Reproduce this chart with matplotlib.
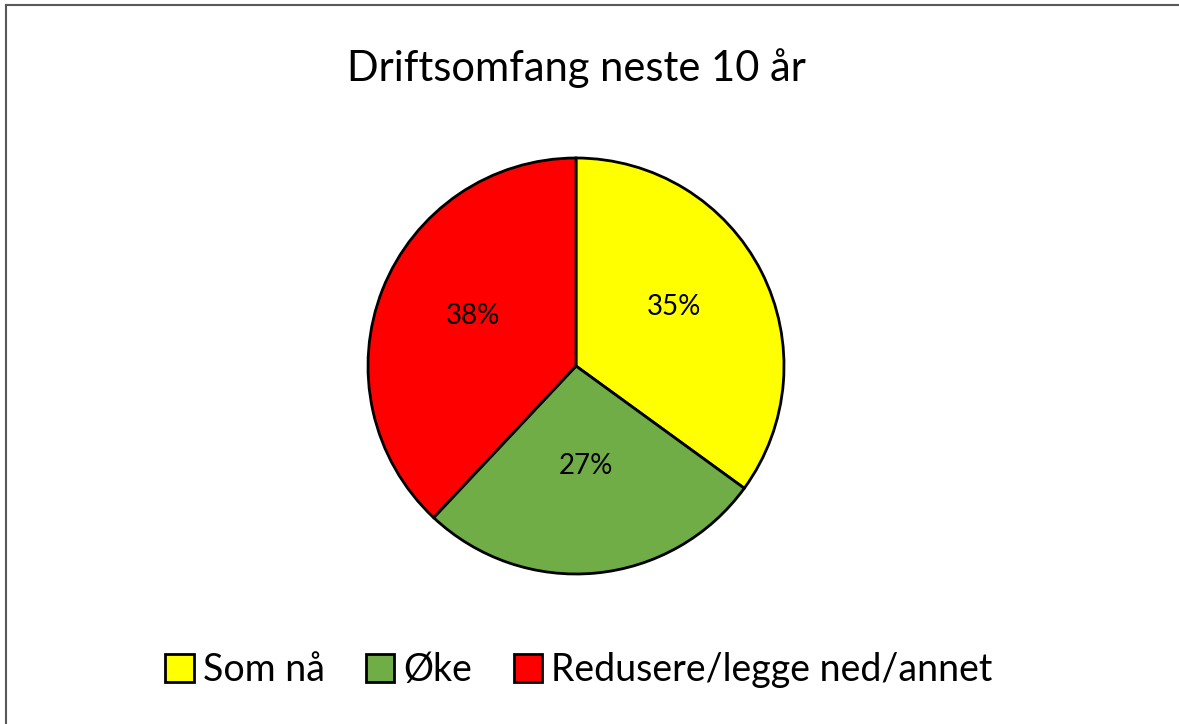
import matplotlib
matplotlib.use("Agg")
import matplotlib.pyplot as plt
from matplotlib.lines import Line2D
from matplotlib.patches import Patch

categories = ["Som nå", "Øke", "Redusere/legge ned/annet"]
values = [35, 27, 38]
colors = ["#FFFF00", "#70AD47", "#FF0000"]
title = "Driftsomfang neste 10 år"

plt.rcParams['font.family'] = ['Lato', 'DejaVu Sans']

W, H = 1179, 724
fig = plt.figure(figsize=(W / 100, H / 100), dpi=100)
fig.patch.set_facecolor("white")

# pie axes: center (576, 366), radius 208 px
cx, cy, r = 576, 366, 208
ax = fig.add_axes([(cx - r) / W, 1 - (cy + r) / H, 2 * r / W, 2 * r / H])
wedges, texts, autotexts = ax.pie(
    values, colors=colors, startangle=90, counterclock=False,
    autopct=lambda p: f"{p:.0f}%", pctdistance=0.53,
    wedgeprops=dict(edgecolor="black", linewidth=2),
    textprops=dict(fontsize=20, color="black"))
for t in autotexts:
    x, y = t.get_position()
    t.set_position((x, y + 0.045))
ax.set_aspect("equal")
ax.set_xlim(-1, 1)
ax.set_ylim(-1, 1)

fig.text(576 / W, 1 - 68 / H, title, ha="center", va="center", fontsize=30)

handles = [Patch(facecolor=c, edgecolor="black", linewidth=2) for c in colors]
leg = fig.legend(handles, categories, loc="center", bbox_to_anchor=(579 / W, 1 - 670 / H),
                 ncol=3, frameon=False, fontsize=27, handlelength=0.75, handleheight=0.75,
                 handletextpad=0.25, columnspacing=1.1)

# outer chart border (top and left visible)
fig.add_artist(Line2D([6 / W, 6 / W], [0, 1 - 5 / H], transform=fig.transFigure, color="#595959", linewidth=1.5))
fig.add_artist(Line2D([6 / W, 1], [1 - 5 / H, 1 - 5 / H], transform=fig.transFigure, color="#595959", linewidth=1.5))

fig.savefig("out.png", dpi=100)
